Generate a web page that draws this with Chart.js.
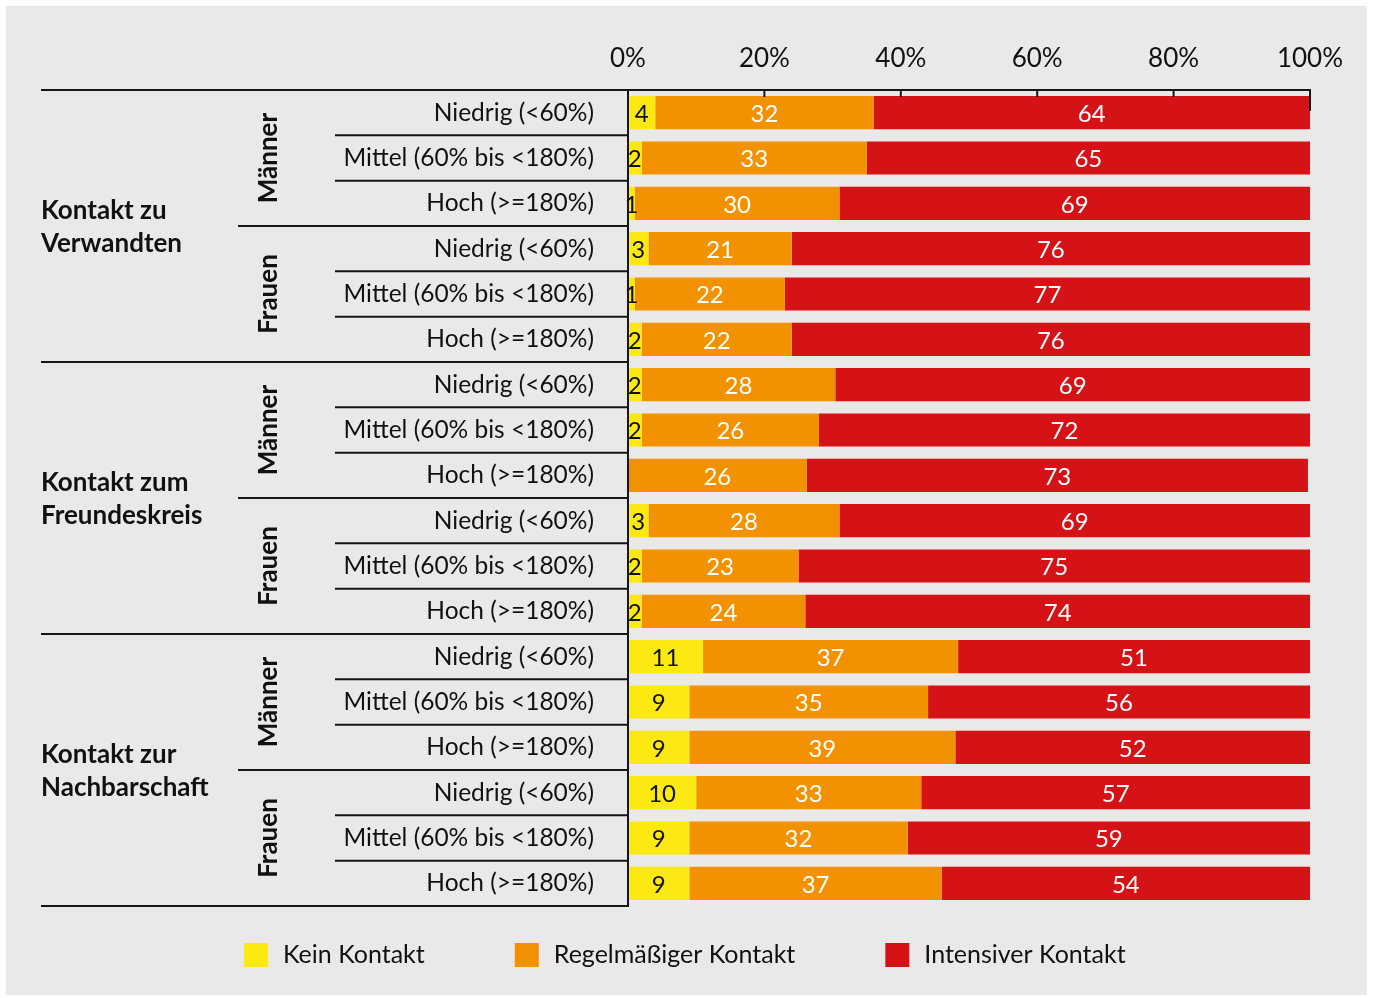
<!DOCTYPE html>
<html>
<head>
<meta charset="utf-8">
<script src="https://cdn.jsdelivr.net/npm/chart.js@4/dist/chart.umd.min.js"></script>
<style>
  html, body { margin: 0; padding: 0; background: #ffffff; }
  #wrap { position: relative; width: 1373px; height: 998px; }
</style>
</head>
<body>
<div id="wrap"><canvas id="c" width="1373" height="998"></canvas></div>
<script>
// ---------- data ----------
const categories = [
  'Niedrig (<60%)', 'Mittel (60% bis <180%)', 'Hoch (>=180%)',
  'Niedrig (<60%)', 'Mittel (60% bis <180%)', 'Hoch (>=180%)',
  'Niedrig (<60%)', 'Mittel (60% bis <180%)', 'Hoch (>=180%)',
  'Niedrig (<60%)', 'Mittel (60% bis <180%)', 'Hoch (>=180%)',
  'Niedrig (<60%)', 'Mittel (60% bis <180%)', 'Hoch (>=180%)',
  'Niedrig (<60%)', 'Mittel (60% bis <180%)', 'Hoch (>=180%)'
];
const genderLabels = ['Männer', 'Frauen', 'Männer', 'Frauen', 'Männer', 'Frauen'];
const groupLabels = [
  ['Kontakt zu', 'Verwandten'],
  ['Kontakt zum', 'Freundeskreis'],
  ['Kontakt zur', 'Nachbarschaft']
];
const seriesNames = ['Kein Kontakt', 'Regelmäßiger Kontakt', 'Intensiver Kontakt'];
// values (labels show the truncated integer)
const keinKontakt      = [4, 2, 1, 3, 1, 2,   2, 2, 0, 3, 2, 2,   11, 9, 9, 10, 9, 9];
const regelKontakt     = [32, 33, 30, 21, 22, 22,   28.4, 26, 26.2, 28, 23, 24,   37.4, 35, 39, 33, 32, 37];
const intensivKontakt  = [64, 65, 69, 76, 77, 76,   69.6, 72, 73.5, 69, 75, 74,   51.6, 56, 52, 57, 59, 54];
const xMin = 0, xMax = 100, xStep = 20;

// ---------- style ----------
const FONT = 'Lato';
const BG = '#EBE8E8';
const LINE = '#161616';
const colors = ['#FDE912', '#F39200', '#D51317'];
const labelColors = ['#111111', '#ffffff', '#ffffff'];

const bgPlugin = {
  id: 'bg',
  beforeDraw(chart) {
    const ctx = chart.ctx;
    ctx.save();
    ctx.fillStyle = BG;
    ctx.fillRect(6, 6, chart.width - 12, chart.height - 9);
    ctx.restore();
  }
};

const decoPlugin = {
  id: 'deco',
  afterDatasetsDraw(chart) {
    const ctx = chart.ctx;
    const ca = chart.chartArea;
    const ys = chart.scales.y;
    const xs = chart.scales.x;
    const n = categories.length;
    const centers = [];
    for (let i = 0; i < n; i++) centers.push(ys.getPixelForValue(i));
    const bound = k => k === 0 ? ca.top : (k === n ? ca.bottom : (centers[k - 1] + centers[k]) / 2);

    // data labels
    ctx.save();
    ctx.font = '24px ' + FONT;
    ctx.textAlign = 'center';
    ctx.textBaseline = 'middle';
    chart.data.datasets.forEach((ds, di) => {
      const meta = chart.getDatasetMeta(di);
      meta.data.forEach((bar, i) => {
        const v = ds.data[i];
        if (!v) return;
        ctx.fillStyle = labelColors[di];
        ctx.fillText(String(Math.floor(v)), (bar.x + bar.base) / 2, bar.y + 1.5);
      });
    });
    ctx.restore();

    // lines
    ctx.save();
    ctx.strokeStyle = LINE;
    ctx.lineWidth = 2;
    ctx.beginPath();
    ctx.moveTo(41, ca.top); ctx.lineTo(ca.right + 1, ca.top);
    for (let v = xMin + xStep; v < xMax; v += xStep) {
      const px = xs.getPixelForValue(v);
      ctx.moveTo(px, ca.top); ctx.lineTo(px, ca.top + 7);
    }
    const rx = xs.getPixelForValue(xMax);
    ctx.moveTo(rx, ca.top); ctx.lineTo(rx, ca.top + 21);
    const lx = xs.getPixelForValue(xMin);
    ctx.moveTo(lx, ca.top); ctx.lineTo(lx, ca.bottom + 1);
    for (let k = 1; k <= n; k++) {
      const y = bound(k);
      let x0 = 335;
      if (k % 6 === 0) x0 = 41; else if (k % 3 === 0) x0 = 238;
      ctx.moveTo(x0, y); ctx.lineTo(lx, y);
    }
    ctx.stroke();
    ctx.restore();

    // gender labels
    ctx.save();
    ctx.font = 'bold 26px ' + FONT;
    ctx.fillStyle = '#111';
    ctx.textAlign = 'center';
    ctx.textBaseline = 'middle';
    genderLabels.forEach((g, gi) => {
      const cy = (bound(gi * 3) + bound(gi * 3 + 3)) / 2;
      ctx.save();
      ctx.translate(269, cy);
      ctx.rotate(-Math.PI / 2);
      ctx.fillText(g, 0, 0);
      ctx.restore();
    });
    // group labels
    ctx.textAlign = 'left';
    groupLabels.forEach((lines, gi) => {
      const cy = (bound(gi * 6) + bound(gi * 6 + 6)) / 2;
      const lh = 33;
      lines.forEach((t, li) => {
        ctx.fillText(t, 41, cy + 1 + (li - (lines.length - 1) / 2) * lh);
      });
    });
    ctx.restore();

    // legend
    ctx.save();
    ctx.font = '25px ' + FONT;
    ctx.textBaseline = 'middle';
    ctx.textAlign = 'left';
    let x = 244;
    const ly = 955;
    chart.data.datasets.forEach((ds, di) => {
      ctx.fillStyle = ds.backgroundColor;
      ctx.fillRect(x, ly - 12, 24, 24);
      ctx.fillStyle = '#111';
      ctx.fillText(ds.label, x + 39, ly);
      x += 39 + ctx.measureText(ds.label).width + 90;
    });
    ctx.restore();
  }
};

new Chart(document.getElementById('c'), {
  type: 'bar',
  data: {
    labels: categories,
    datasets: [
      { label: seriesNames[0], data: keinKontakt, backgroundColor: colors[0] },
      { label: seriesNames[1], data: regelKontakt, backgroundColor: colors[1] },
      { label: seriesNames[2], data: intensivKontakt, backgroundColor: colors[2] }
    ]
  },
  options: {
    indexAxis: 'y',
    responsive: false,
    animation: false,
    devicePixelRatio: 1,
    categoryPercentage: 1,
    barPercentage: 0.73,
    layout: { padding: { left: 41, right: 63, top: 0, bottom: 92 } },
    plugins: { legend: { display: false }, tooltip: { enabled: false } },
    scales: {
      x: {
        position: 'top',
        stacked: true,
        min: xMin, max: xMax,
        grid: { display: false, drawTicks: false, tickLength: 0 },
        border: { display: false },
        ticks: {
          stepSize: xStep,
          padding: 16,
          color: '#111',
          font: { family: FONT, size: 26 },
          callback: v => v + '%'
        },
        afterFit(s) { s.height = 90; }
      },
      y: {
        stacked: true,
        grid: { display: false, drawTicks: false, tickLength: 0 },
        border: { display: false },
        ticks: {
          padding: 34,
          color: '#111',
          autoSkip: false,
          font: { family: FONT, size: 24.5 }
        },
        afterFit(s) { s.width = 587; }
      }
    }
  },
  plugins: [bgPlugin, decoPlugin]
});
</script>
</body>
</html>
